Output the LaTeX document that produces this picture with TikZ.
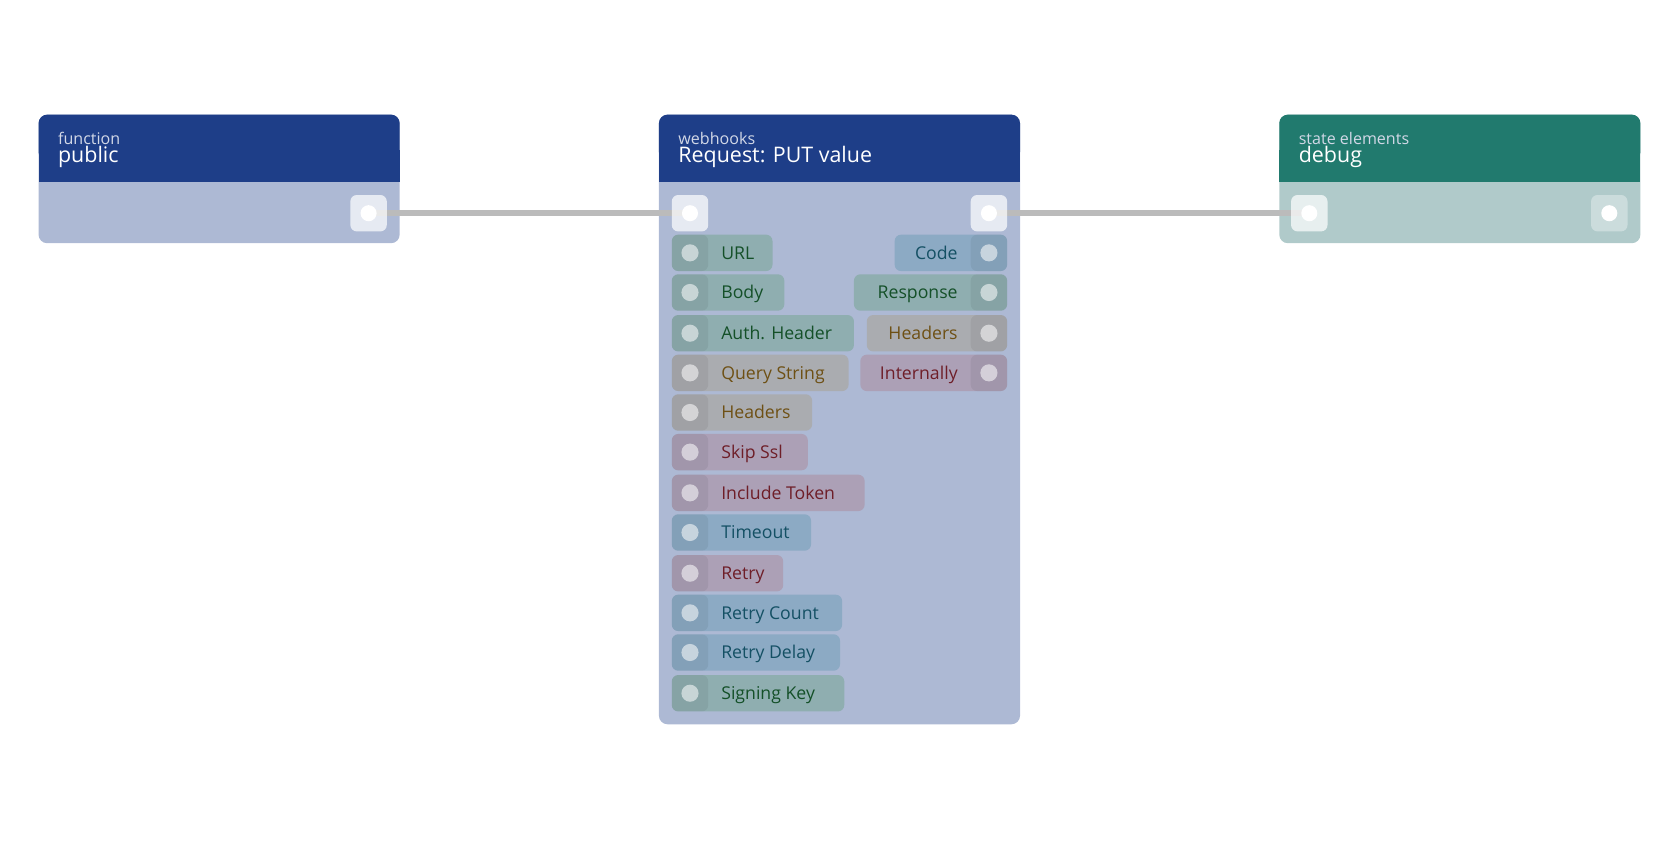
\documentclass[tikz,border=0pt]{standalone}
\usepackage{fontspec}
\setmainfont{Open Sans}
\begin{document}
\definecolor{hdr}{RGB}{30,62,136}
\definecolor{bdy}{RGB}{173,185,212}
\definecolor{thdr}{RGB}{33,122,110}
\definecolor{tbdy}{RGB}{176,202,202}
\definecolor{edge}{RGB}{187,187,187}
\definecolor{gF}{RGB}{143,174,176}\definecolor{gT}{RGB}{20,80,40}
\definecolor{yF}{RGB}{170,172,176}\definecolor{yT}{RGB}{110,80,20}
\definecolor{pF}{RGB}{172,160,182}\definecolor{pT}{RGB}{110,30,40}
\definecolor{bF}{RGB}{140,170,196}\definecolor{bT}{RGB}{20,80,100}
\begin{tikzpicture}[x=1pt,y=-1pt,
 port/.style={fill=white,fill opacity=0.7,rounded corners=6pt,minimum size=34pt,inner sep=0},
 lbl/.style={font=\fontsize{16.5}{18}\selectfont,inner sep=0},
 sub/.style={font=\fontsize{15}{16}\selectfont,text=white!80!hdr,anchor=base west,inner sep=0},
 ttl/.style={font=\fontsize{20}{21}\selectfont,text=white,anchor=base west,inner sep=0},
 edg/.style={draw=edge,line width=6pt}]
\useasboundingbox (0,0) rectangle (1568,784);
\newcommand\card[6]{% x, bottom, hdrcol, bdycol, sub, title
 \fill[#4,rounded corners=8pt] (#1,107) rectangle (#1+337,#2);
 \fill[#3,rounded corners=8pt] (#1,107) rectangle (#1+337,150);
 \fill[#3] (#1,140) rectangle (#1+337,170);
 \node[sub] at (#1+18,135) {#5};
 \node[ttl] at (#1+18,152) {#6};}
\card{36}{227}{hdr}{bdy}{function}{public}
\card{615}{676}{hdr}{bdy}{webhooks}{Request: PUT value}
\card{1194}{227}{thdr}{tbdy}{state elements}{debug}
\coordinate (c1) at (344,199);
\coordinate (c2) at (644,199);
\coordinate (c3) at (923,199);
\coordinate (c4) at (1222,199);
\draw[edg] (c1) -- (c2);
\draw[edg] (c3) -- (c4);
\node[port] (p1) at (c1) {};
\node[port] (p2) at (c2) {};
\node[port] (p3) at (c3) {};
\node[port] (p4) at (c4) {};
\node[port,fill opacity=0.35] (p5) at (1502,199) {};
\foreach \p in {p1,p2,p3,p4,p5} \fill[white] (\p) circle (7.5pt);
\newcommand\lpill[5]{% y, right, fill, text, label
 \fill[#3,rounded corners=6pt] (627,#1-17) rectangle (#2,#1+17);
 \fill[black,opacity=0.06,rounded corners=6pt] (627,#1-17) rectangle (661,#1+17);
 \fill[white,opacity=0.55] (644,#1) circle (8pt);
 \node[lbl,text=#4,anchor=base west] at (673,#1+6) {#5};}
\newcommand\rpill[5]{% y, left, fill, text, label
 \fill[#3,rounded corners=6pt] (#2,#1-17) rectangle (940,#1+17);
 \fill[black,opacity=0.06,rounded corners=6pt] (906,#1-17) rectangle (940,#1+17);
 \fill[white,opacity=0.55] (923,#1) circle (8pt);
 \node[lbl,text=#4,anchor=base east] at (894,#1+6) {#5};}
\lpill{236}{721}{gF}{gT}{URL}
\lpill{273}{732}{gF}{gT}{Body}
\lpill{311}{797}{gF}{gT}{Auth. Header}
\lpill{348}{792}{yF}{yT}{Query String}
\lpill{385}{758}{yF}{yT}{Headers}
\lpill{422}{754}{pF}{pT}{Skip Ssl}
\lpill{460}{807}{pF}{pT}{Include Token}
\lpill{497}{757}{bF}{bT}{Timeout}
\lpill{535}{731}{pF}{pT}{Retry}
\lpill{572}{786}{bF}{bT}{Retry Count}
\lpill{609}{784}{bF}{bT}{Retry Delay}
\lpill{647}{788}{gF}{gT}{Signing Key}
\rpill{236}{835}{bF}{bT}{Code}
\rpill{273}{797}{gF}{gT}{Response}
\rpill{311}{809}{yF}{yT}{Headers}
\rpill{348}{803}{pF}{pT}{Internally}
\end{tikzpicture}
\end{document}
